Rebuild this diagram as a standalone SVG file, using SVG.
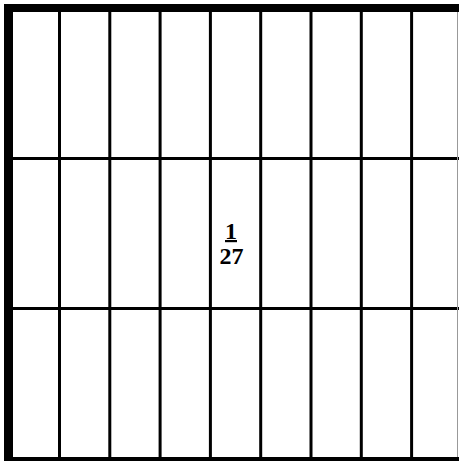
<svg xmlns="http://www.w3.org/2000/svg" width="459" height="461" viewBox="0 0 459 461">
<style>
.v{stroke:#000;stroke-width:3}
.t{font-family:"Liberation Serif",serif;font-weight:bold;font-size:24px;text-anchor:middle}
</style>
<rect width="459" height="461" fill="#fff"/>
<g id="grid">
<line class="v" x1="59.5" y1="8" x2="59.5" y2="458"/>
<line class="v" x1="109.8" y1="8" x2="109.8" y2="458"/>
<line class="v" x1="160.1" y1="8" x2="160.1" y2="458"/>
<line class="v" x1="210.4" y1="8" x2="210.4" y2="458"/>
<line class="v" x1="260.7" y1="8" x2="260.7" y2="458"/>
<line class="v" x1="311" y1="8" x2="311" y2="458"/>
<line class="v" x1="361.3" y1="8" x2="361.3" y2="458"/>
<line class="v" x1="411.6" y1="8" x2="411.6" y2="458"/>
<line class="v" x1="8" y1="158.5" x2="459" y2="158.5"/>
<line class="v" x1="8" y1="308.5" x2="459" y2="308.5"/>
<line x1="457.5" y1="8" x2="457.5" y2="458" stroke="#999" stroke-width="1"/>
<rect x="4" y="4" width="9" height="457" fill="#000"/>
<rect x="4" y="4" width="455" height="8" fill="#000"/>
<rect x="4" y="457" width="455" height="4" fill="#000"/>
</g>
<g id="label">
<text class="t" x="231" y="238.5">1</text>
<rect x="225" y="240" width="12" height="2.2" fill="#000"/>
<text class="t" x="231.5" y="263.5">27</text>
</g>
</svg>
